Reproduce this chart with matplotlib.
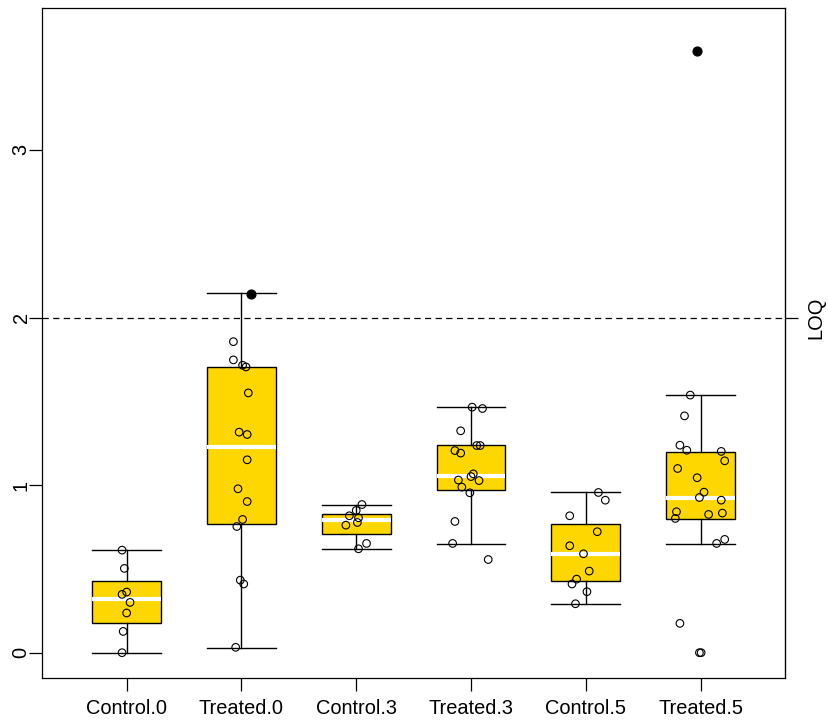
import matplotlib
matplotlib.use("Agg")
import matplotlib.pyplot as plt

plt.rcParams["font.family"] = ["Liberation Sans", "DejaVu Sans"]

# Group names
groups = ["Control.0", "Treated.0", "Control.3", "Treated.3", "Control.5", "Treated.5"]

# Box summaries per group
whisker_low = [0.00, 0.03, 0.62, 0.65, 0.29, 0.65]
quart_low = [0.18, 0.77, 0.71, 0.97, 0.425, 0.80]
medians = [0.32, 1.23, 0.79, 1.057, 0.59, 0.926]
quart_high = [0.43, 1.705, 0.83, 1.237, 0.77, 1.20]
whisker_high = [0.61, 2.145, 0.884, 1.465, 0.956, 1.537]

# Individual measurements per group
control_0 = [0.612, 0.503, 0.362, 0.348, 0.300, 0.237, 0.127, 0.0]
treated_0 = [1.856, 1.747, 1.715, 1.705, 1.550, 1.316, 1.302, 1.151, 0.978, 0.902,
             0.795, 0.753, 0.433, 0.410, 0.032]
control_3 = [0.884, 0.849, 0.817, 0.805, 0.777, 0.761, 0.652, 0.620]
treated_3 = [1.465, 1.457, 1.324, 1.236, 1.236, 1.206, 1.191, 1.067, 1.051, 1.030,
             1.027, 0.988, 0.954, 0.783, 0.652, 0.556]
control_5 = [0.956, 0.910, 0.817, 0.722, 0.638, 0.590, 0.487, 0.439, 0.410, 0.364, 0.292]
treated_5 = [1.537, 1.413, 1.238, 1.208, 1.201, 1.145, 1.099, 1.044, 0.958, 0.926,
             0.910, 0.841, 0.825, 0.833, 0.801, 0.676, 0.652, 0.175, 0.0, 0.0]

# Horizontal jitter applied to each measurement
jitter_c0 = [-0.04, -0.02, 0.0, -0.04, 0.03, 0.0, -0.03, -0.04]
jitter_t0 = [-0.07, -0.07, 0.01, 0.04, 0.06, -0.02, 0.05, 0.05, -0.03, 0.05,
             0.01, -0.04, -0.01, 0.02, -0.05]
jitter_c3 = [0.05, 0.0, -0.06, 0.02, 0.01, -0.09, 0.09, 0.02]
jitter_t3 = [0.01, 0.10, -0.09, 0.05, 0.08, -0.14, -0.09, 0.02, 0.0, -0.11,
             0.07, -0.08, -0.01, -0.14, -0.16, 0.15]
jitter_c5 = [0.11, 0.17, -0.14, 0.10, -0.14, -0.02, 0.03, -0.08, -0.12, 0.01, -0.09]
jitter_t5 = [-0.09, -0.14, -0.18, -0.12, 0.18, 0.21, -0.20, -0.03, 0.03, -0.01,
             0.18, -0.21, 0.07, 0.19, -0.22, 0.21, 0.14, -0.18, -0.01, 0.005]

# Flagged values (filled markers)
flag_group = [2, 6]
flag_values = [2.141, 3.59]
flag_jitter = [0.08, -0.03]

loq = 2.0

values = [control_0, treated_0, control_3, treated_3, control_5, treated_5]
jitters = [jitter_c0, jitter_t0, jitter_c3, jitter_t3, jitter_c5, jitter_t5]

fig = plt.figure(figsize=(8.29, 7.23), dpi=100)
ax = fig.add_axes([0.051, 0.0627, 0.896, 0.9263])

stats = []
for i, g in enumerate(groups):
    stats.append(dict(label=g, whislo=whisker_low[i], q1=quart_low[i], med=medians[i],
                      q3=quart_high[i], whishi=whisker_high[i], fliers=[]))

positions = list(range(1, len(groups) + 1))
ax.bxp(stats, positions=positions, widths=0.6, capwidths=0.6, patch_artist=True,
       showfliers=False,
       boxprops=dict(facecolor="#FFD700", edgecolor="black", linewidth=1.0),
       medianprops=dict(color="white", linewidth=3.0, solid_capstyle="butt"),
       whiskerprops=dict(color="black", linewidth=1.0),
       capprops=dict(color="black", linewidth=1.0))

ax.axhline(loq, color="black", linewidth=0.9, linestyle=(0, (5, 3.5)), zorder=1)

for pos, vals, jit in zip(positions, values, jitters):
    xs = [pos + j for j in jit]
    ax.scatter(xs, vals, s=30, facecolors="none", edgecolors="black",
               linewidths=0.8, zorder=4)

ax.scatter([g + j for g, j in zip(flag_group, flag_jitter)], flag_values,
           s=40, color="black", zorder=5)

ax.set_xlim(0.265, 6.736)
ax.set_ylim(-0.149, 3.847)

ax.set_xticks(positions)
ax.set_xticklabels(groups)
ax.set_yticks([0, 1, 2, 3])
ax.set_yticklabels(["0", "1", "2", "3"], rotation=90, va="center")
ax.tick_params(axis="both", labelsize=14.4, length=9.4, width=0.9, color="black")
ax.tick_params(axis="x", pad=6)
ax.tick_params(axis="y", pad=-1)

for sp in ax.spines.values():
    sp.set_linewidth(0.9)

sec = ax.secondary_yaxis("right")
sec.set_yticks([loq])
sec.set_yticklabels(["LOQ"], rotation=90, va="center")
sec.tick_params(labelsize=14.4, length=9.4, width=0.9, pad=6)

fig.savefig("out.png", dpi=100)
